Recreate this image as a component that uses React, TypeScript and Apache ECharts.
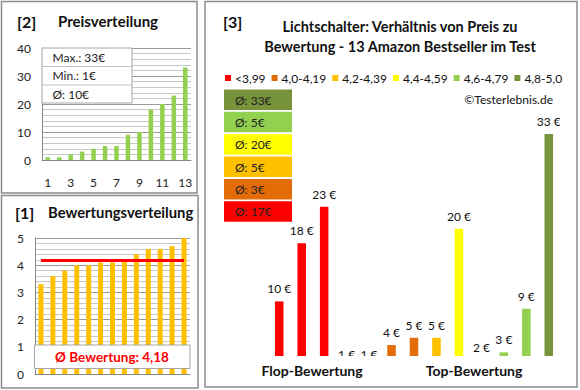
import React, { useEffect, useRef } from "react";
import * as echarts from "echarts";

const productLabels = ["1", "2", "3", "4", "5", "6", "7", "8", "9", "10", "11", "12", "13"];
const prices = [1, 1, 2, 3, 4, 5, 5, 9, 10, 18, 20, 23, 33];
const ratings = [3.3, 3.6, 3.8, 4.0, 4.0, 4.1, 4.1, 4.2, 4.4, 4.6, 4.6, 4.7, 5.0];
const avgRating = 4.18;
const priceStats = ["Max.: 33€", "Min.: 1€", "Ø: 10€"];

const classNames = ["<3,99", "4,0-4,19", "4,2-4,39", "4,4-4,59", "4,6-4,79", "4,8-5,0"];
const classAverages = [17, 3, 5, 20, 5, 33];
// products ordered by rating (flop -> top): price and rating class
const rankedPrices = [10, 18, 23, 1, 1, 4, 5, 5, 20, 2, 3, 9, 33];
const rankedClass = [0, 0, 0, 1, 1, 1, 1, 2, 3, 4, 4, 4, 5];

const classColors = ["#FF0000", "#E36C09", "#FFC000", "#FFFF00", "#92D050", "#77933C"];
const FONT = "Lato";
const RIGHT_MIN = 2.5;

export default function App() {
  const ref = useRef<HTMLDivElement>(null);
  useEffect(() => {
    if (!ref.current) return;
    const chart = echarts.init(ref.current, undefined, { renderer: "svg" });

    const classSeries = classNames.map((name, c) => {
      const data: number[][] = [];
      rankedPrices.forEach((p, i) => {
        if (rankedClass[i] === c) data.push([i, p]);
      });
      return {
        type: "custom",
        name,
        xAxisIndex: 2,
        yAxisIndex: 2,
        clip: true,
        itemStyle: { color: classColors[c] },
        encode: { x: 0, y: 1 },
        data,
        renderItem: (params: any, api: any) => {
          const idx = api.value(0);
          const v = api.value(1);
          const base = api.coord([idx, RIGHT_MIN]);
          const top = api.coord([idx, v]);
          const w = api.size([1, 0])[0] * 0.38;
          return {
            type: "group",
            children: [
              {
                type: "rect",
                shape: {
                  x: top[0] - w / 2,
                  y: Math.min(top[1], base[1]),
                  width: w,
                  height: Math.abs(base[1] - top[1]),
                },
                style: { fill: classColors[c] },
              },
              {
                type: "text",
                x: top[0],
                y: top[1] - 6.5,
                style: {
                  text: v + " €",
                  align: "center",
                  verticalAlign: "bottom",
                  fill: "#111",
                  fontSize: 12,
                  fontFamily: FONT,
                },
              },
            ],
          };
        },
      };
    });

    const boxOrder = [5, 4, 3, 2, 1, 0];
    const boxes: any[] = [];
    boxOrder.forEach((c, k) => {
      const y = 89.5 + k * 22.35;
      boxes.push({
        type: "rect",
        shape: { x: 224, y, width: 68, height: 20.5 },
        style: { fill: classColors[c] },
        z: 5,
      });
      boxes.push({
        type: "text",
        x: 235,
        y: y + 10.5,
        style: {
          text: "Ø: " + classAverages[c] + "€",
          fontSize: 12,
          fontFamily: FONT,
          fill: "#222",
          verticalAlign: "middle",
        },
        z: 6,
      });
    });

    const statTexts = priceStats.map((t, i) => ({
      type: "text",
      x: 52.5,
      y: 57.5 + i * 18.3,
      style: { text: t, fontSize: 12, fontFamily: FONT, fill: "#222", verticalAlign: "middle" },
      z: 11,
    }));

    const border = "#8c8c8c";
    const option: any = {
      animation: false,
      textStyle: { fontFamily: FONT },
      legend: {
        data: classNames,
        left: 225,
        top: 72,
        itemWidth: 6,
        itemHeight: 6,
        itemGap: 6,
        icon: "rect",
        padding: 0,
        textStyle: { fontSize: 12, color: "#111", fontFamily: FONT, padding: [0, 0, 0, -1] },
        selectedMode: false,
      },
      grid: [
        { left: 42, top: 48, width: 149, height: 112 },
        { left: 35, top: 238, width: 155, height: 136 },
        { left: 268, top: 105, width: 292, height: 251 },
      ],
      xAxis: [
        {
          type: "category",
          gridIndex: 0,
          data: productLabels,
          axisLine: { lineStyle: { color: "#888" } },
          axisTick: { show: false },
          axisLabel: { interval: 1, margin: 16, fontSize: 12, color: "#222", fontFamily: FONT },
        },
        {
          type: "category",
          gridIndex: 1,
          data: productLabels,
          axisLine: { lineStyle: { color: "#888" } },
          axisTick: { show: false },
          axisLabel: { show: false },
        },
        {
          type: "category",
          gridIndex: 2,
          data: productLabels,
          show: false,
        },
      ],
      yAxis: [
        {
          type: "value",
          gridIndex: 0,
          min: 0,
          max: 40,
          interval: 10,
          axisLine: { show: true, lineStyle: { color: "#888" } },
          axisTick: { show: false },
          axisLabel: { margin: 11, fontSize: 12, color: "#222", fontFamily: FONT },
          splitLine: { lineStyle: { color: "#9a9a9a" } },
          minorTick: { show: false, splitNumber: 5 },
          minorSplitLine: { show: true, lineStyle: { color: "#c8c8c8" } },
        },
        {
          type: "value",
          gridIndex: 1,
          min: 0,
          max: 5,
          interval: 1,
          axisLine: { show: true, lineStyle: { color: "#888" } },
          axisTick: { show: false },
          axisLabel: { margin: 11, fontSize: 12, color: "#222", fontFamily: FONT },
          splitLine: { lineStyle: { color: "#9a9a9a" } },
          minorTick: { show: false, splitNumber: 5 },
          minorSplitLine: { show: true, lineStyle: { color: "#c8c8c8" } },
        },
        {
          type: "value",
          gridIndex: 2,
          min: RIGHT_MIN,
          max: 37,
          show: false,
        },
      ],
      series: [
        {
          type: "bar",
          xAxisIndex: 0,
          yAxisIndex: 0,
          data: prices,
          barWidth: 4.5,
          itemStyle: { color: "#92D050" },
          silent: true,
        },
        {
          type: "bar",
          xAxisIndex: 1,
          yAxisIndex: 1,
          data: ratings,
          barWidth: 5,
          itemStyle: { color: "#FFC000" },
          silent: true,
          markLine: {
            silent: true,
            symbol: "none",
            label: { show: false },
            lineStyle: { color: "#FF0000", width: 3, type: "solid" },
            data: [[{ coord: ["1", avgRating] }, { coord: ["13", avgRating] }]],
          },
        },
        ...classSeries,
      ],
      graphic: [
        { type: "rect", shape: { x: 1.5, y: 1.5, width: 195.5, height: 191.5 }, style: { fill: "none", stroke: border, lineWidth: 1.5 }, z: 0 },
        { type: "rect", shape: { x: 1.5, y: 195.5, width: 196.5, height: 192.5 }, style: { fill: "none", stroke: border, lineWidth: 1.5 }, z: 0 },
        { type: "rect", shape: { x: 205, y: 1.5, width: 372, height: 385.5 }, style: { fill: "none", stroke: border, lineWidth: 1.5 }, z: 0 },
        { type: "text", x: 17, y: 21, style: { text: "[2]", fontSize: 16, fontWeight: "bold", fontFamily: FONT, fill: "#111", verticalAlign: "middle" } },
        { type: "text", x: 58, y: 21, style: { text: "Preisverteilung", fontSize: 15, fontWeight: "bold", fontFamily: FONT, fill: "#111", verticalAlign: "middle" } },
        { type: "text", x: 15, y: 212, style: { text: "[1]", fontSize: 16, fontWeight: "bold", fontFamily: FONT, fill: "#111", verticalAlign: "middle" } },
        { type: "text", x: 48, y: 212, style: { text: "Bewertungsverteilung", fontSize: 14.8, fontWeight: "bold", fontFamily: FONT, fill: "#111", verticalAlign: "middle" } },
        { type: "text", x: 223, y: 21, style: { text: "[3]", fontSize: 16, fontWeight: "bold", fontFamily: FONT, fill: "#111", verticalAlign: "middle" } },
        { type: "text", x: 400, y: 26, style: { text: "Lichtschalter: Verhältnis von Preis zu", fontSize: 14.5, fontWeight: "bold", fontFamily: FONT, fill: "#111", align: "center", verticalAlign: "middle" } },
        { type: "text", x: 400, y: 46, style: { text: "Bewertung - 13 Amazon Bestseller im Test", fontSize: 14.5, fontWeight: "bold", fontFamily: FONT, fill: "#111", align: "center", verticalAlign: "middle" } },
        { type: "text", x: 553, y: 99, style: { text: "©Testerlebnis.de", fontSize: 12, fontFamily: FONT, fill: "#111", align: "right", verticalAlign: "middle" } },
        { type: "text", x: 312, y: 370, style: { text: "Flop-Bewertung", fontSize: 14, fontWeight: "bold", fontFamily: FONT, fill: "#111", align: "center", verticalAlign: "middle" } },
        { type: "text", x: 474, y: 370, style: { text: "Top-Bewertung", fontSize: 14, fontWeight: "bold", fontFamily: FONT, fill: "#111", align: "center", verticalAlign: "middle" } },
        ...boxes,
        { type: "rect", shape: { x: 42, y: 48, width: 90, height: 55 }, style: { fill: "#fff", stroke: "#a6a6a6", lineWidth: 1 }, z: 10 },
        { type: "line", shape: { x1: 42, y1: 66.5, x2: 132, y2: 66.5 }, style: { stroke: "#c0c0c0", lineWidth: 1 }, z: 11 },
        { type: "line", shape: { x1: 42, y1: 85, x2: 132, y2: 85 }, style: { stroke: "#c0c0c0", lineWidth: 1 }, z: 11 },
        ...statTexts,
        { type: "rect", shape: { x: 34.5, y: 345, width: 155.5, height: 23.5 }, style: { fill: "#fff", stroke: "#a6a6a6", lineWidth: 1 }, z: 10 },
        { type: "text", x: 112, y: 357, style: { text: "Ø Bewertung: " + avgRating.toFixed(2).replace(".", ","), fontSize: 13.5, fontWeight: "bold", fontFamily: FONT, fill: "#FF0000", align: "center", verticalAlign: "middle" }, z: 11 },
      ],
    };
    chart.setOption(option);
    return () => chart.dispose();
  }, []);
  return <div ref={ref} style={{ width: 580, height: 390, position: "absolute", left: 0, top: 0, background: "#fff" }} />;
}
